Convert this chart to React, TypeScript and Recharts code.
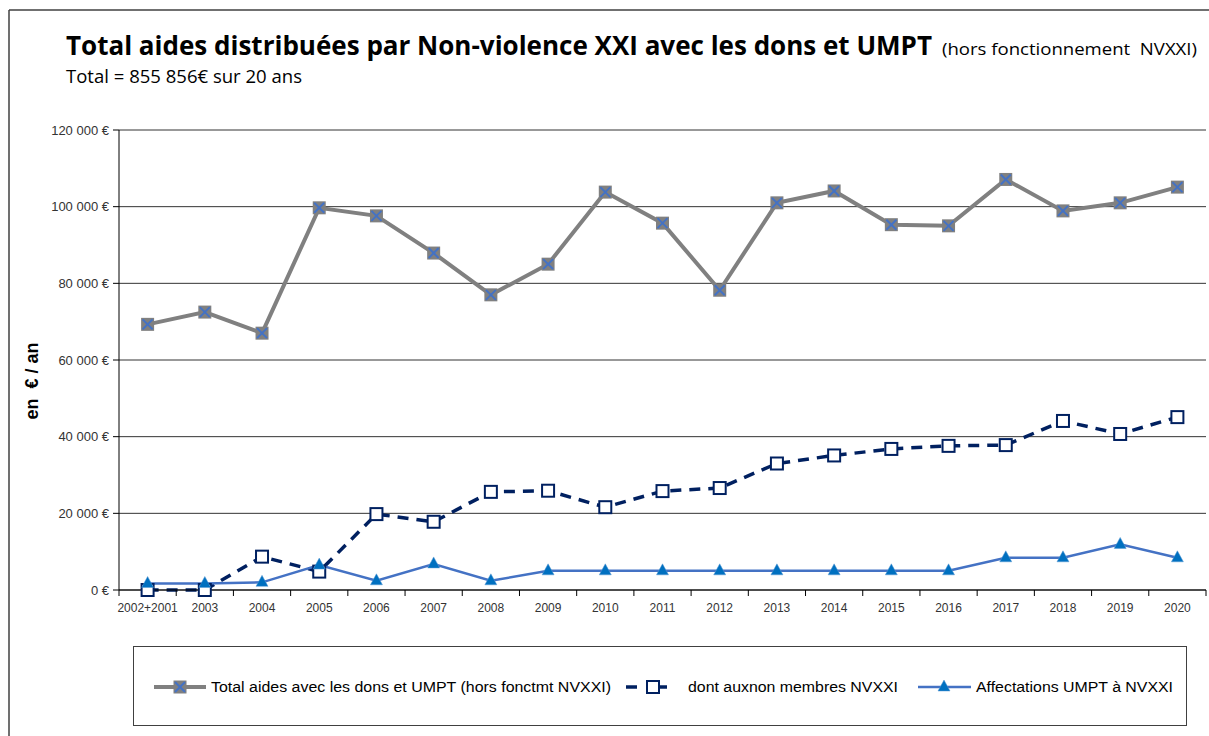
import React from 'react';
import { LineChart, Line, XAxis, YAxis, CartesianGrid } from 'recharts';

const CATEGORIES = ['2002+2001', '2003', '2004', '2005', '2006', '2007', '2008', '2009', '2010', '2011', '2012', '2013', '2014', '2015', '2016', '2017', '2018', '2019', '2020'];
const TOTAL_AIDES = [69300, 72500, 67000, 99700, 97600, 87900, 77000, 85000, 103800, 95700, 78200, 101000, 104100, 95300, 95000, 107100, 98900, 101000, 105100];
const NON_MEMBRES = [0, 0, 8700, 4800, 19800, 17800, 25600, 25900, 21600, 25800, 26600, 33000, 35100, 36800, 37600, 37800, 44100, 40700, 45100];
const AFFECTATIONS_UMPT = [1700, 1700, 2000, 6500, 2400, 6800, 2400, 5000, 5000, 5000, 5000, 5000, 5000, 5000, 5000, 8400, 8400, 11900, 8400];
const Y_TICKS = [0, 20000, 40000, 60000, 80000, 100000, 120000];

const TITLE = 'Total aides distribuées par Non-violence XXI avec les dons et UMPT';
const TITLE_NOTE = '(hors fonctionnement  NVXXI)';
const SUBTITLE = 'Total = 855 856€ sur 20 ans';
const Y_LABEL = 'en  € / an';
const LEGEND_NAMES = ['Total aides avec les dons et UMPT (hors fonctmt NVXXI)', 'dont auxnon membres NVXXI', 'Affectations UMPT à NVXXI'];

const data = CATEGORIES.map((c, i) => ({
  cat: c,
  total: TOTAL_AIDES[i],
  nonMembres: NON_MEMBRES[i],
  umpt: AFFECTATIONS_UMPT[i],
}));

const W = 1209;
const H = 736;
const PLOT_LEFT = 119;
const PLOT_RIGHT = 1206;
const BAND = (PLOT_RIGHT - PLOT_LEFT) / CATEGORIES.length;

const GREY = '#808080';
const XBLUE = '#4472C4';
const NAVY = '#002060';
const LBLUE = '#4472C4';
const TRI = '#0070C0';

const fmtY = (v: number) => {
  if (v === 0) return '0 €';
  const s = String(v);
  const th = s.slice(0, s.length - 3);
  const rest = s.slice(s.length - 3);
  return `${th} ${rest} €`;
};

const SquareX = (props: any) => {
  const { cx, cy, index } = props;
  if (cx == null || cy == null) return null;
  const h = 6.5;
  return (
    <g key={`sx${index}`}>
      <rect x={cx - h} y={cy - h} width={2 * h} height={2 * h} fill={GREY} />
      <line x1={cx - 5} y1={cy - 5} x2={cx + 5} y2={cy + 5} stroke={XBLUE} strokeWidth={2} />
      <line x1={cx - 5} y1={cy + 5} x2={cx + 5} y2={cy - 5} stroke={XBLUE} strokeWidth={2} />
    </g>
  );
};

const OpenSquare = (props: any) => {
  const { cx, cy, index } = props;
  if (cx == null || cy == null) return null;
  const h = 6;
  return <rect key={`os${index}`} x={cx - h} y={cy - h} width={2 * h} height={2 * h} fill="#fff" stroke={NAVY} strokeWidth={2} />;
};

const Triangle = (props: any) => {
  const { cx, cy, index } = props;
  if (cx == null || cy == null) return null;
  return <path key={`tr${index}`} d={`M${cx},${cy - 7} L${cx + 6},${cy + 4} L${cx - 6},${cy + 4} Z`} fill={TRI} stroke="#5b9bd5" strokeWidth={0.5} />;
};

const XTick = (props: any) => {
  const { x, y, payload, index } = props;
  const last = index === CATEGORIES.length - 1;
  return (
    <g>
      <line x1={x - BAND / 2} y1={590} x2={x - BAND / 2} y2={596} stroke="#000" strokeWidth={1} />
      {last && <line x1={x + BAND / 2} y1={590} x2={x + BAND / 2} y2={596} stroke="#000" strokeWidth={1} />}
      <text x={x} y={y + 14} textAnchor="middle" fontSize={12} fill="#333" fontFamily="Liberation Sans, Arial, sans-serif">
        {payload.value}
      </text>
    </g>
  );
};

const YTick = (props: any) => {
  const { x, y, payload } = props;
  return (
    <text x={x - 2} y={y + 4.5} textAnchor="end" fontSize={13} fill="#333" fontFamily="Liberation Sans, Arial, sans-serif">
      {fmtY(payload.value)}
    </text>
  );
};

export default function App() {
  return (
    <div style={{ position: 'absolute', left: 0, top: 0, width: W, height: H, background: '#fff', overflow: 'hidden' }}>
      <svg width={W} height={H} style={{ position: 'absolute', left: 0, top: 0 }}>
        <line x1={9} y1={10} x2={W} y2={10} stroke="#404040" strokeWidth={1.5} />
        <line x1={9} y1={10} x2={9} y2={H} stroke="#404040" strokeWidth={1.5} />
        <text x={66} y={55} fontSize={27} fontWeight="bold" fontFamily="Open Sans, sans-serif" fill="#000" textLength={866} lengthAdjust="spacingAndGlyphs">
          {TITLE}
        </text>
        <text x={942} y={55} fontSize={16} fontFamily="Open Sans, sans-serif" fill="#000" textLength={255} lengthAdjust="spacingAndGlyphs" style={{ whiteSpace: 'pre' }}>
          {TITLE_NOTE}
        </text>
        <text x={66} y={83} fontSize={18} fontFamily="Open Sans, sans-serif" fill="#000" textLength={236} lengthAdjust="spacingAndGlyphs">
          {SUBTITLE}
        </text>
        <text x={0} y={0} transform="translate(38,381) rotate(-90)" textAnchor="middle" fontSize={18} fontWeight="bold" fontFamily="Liberation Sans, Arial, sans-serif" fill="#000" style={{ whiteSpace: 'pre' }}>
          {Y_LABEL}
        </text>
      </svg>
      <div style={{ position: 'absolute', left: 0, top: 0 }}>
        <LineChart width={W} height={H} data={data} margin={{ top: 130, right: 3, bottom: 116, left: 59 }}>
          <CartesianGrid horizontal vertical={false} stroke="#333" strokeWidth={1} />
          <XAxis dataKey="cat" height={30} padding={{ left: BAND / 2, right: BAND / 2 }} axisLine={{ stroke: '#000' }} tickLine={false} tick={<XTick />} interval={0} />
          <YAxis width={60} domain={[0, 120000]} ticks={Y_TICKS} axisLine={{ stroke: '#000' }} tickLine={{ stroke: '#000' }} tickSize={6} tick={<YTick />} />
          <YAxis yAxisId="r" orientation="right" width={0} domain={[0, 120000]} axisLine={{ stroke: '#555' }} tick={false} tickLine={false} />
          <Line dataKey="total" stroke={GREY} strokeWidth={4} dot={<SquareX />} activeDot={false} isAnimationActive={false} />
          <Line dataKey="nonMembres" stroke={NAVY} strokeWidth={3.5} strokeDasharray="11 8" dot={<OpenSquare />} activeDot={false} isAnimationActive={false} />
          <Line dataKey="umpt" stroke={LBLUE} strokeWidth={2.5} dot={<Triangle />} activeDot={false} isAnimationActive={false} />
        </LineChart>
      </div>
      <div style={{ position: 'absolute', left: 133, top: 646, width: 1054, height: 80, border: '1px solid #404040', boxSizing: 'border-box', background: '#fff' }}>
        <svg width={1054} height={80} style={{ position: 'absolute', left: 0, top: 0 }}>
          <g transform="translate(-133,-646)">
            <line x1={153} y1={686} x2={205} y2={686} stroke={GREY} strokeWidth={4} />
            <SquareX cx={179} cy={686} index={0} />
            <text x={210} y={691} fontSize={14} fontFamily="Liberation Sans, Arial, sans-serif" fill="#000" textLength={400} lengthAdjust="spacingAndGlyphs">
              {LEGEND_NAMES[0]}
            </text>
            <line x1={625} y1={686} x2={636} y2={686} stroke={NAVY} strokeWidth={3.5} />
            <line x1={658} y1={686} x2={666} y2={686} stroke={NAVY} strokeWidth={3.5} />
            <OpenSquare cx={652} cy={686} index={0} />
            <text x={687} y={691} fontSize={14} fontFamily="Liberation Sans, Arial, sans-serif" fill="#000" textLength={210} lengthAdjust="spacingAndGlyphs">
              {LEGEND_NAMES[1]}
            </text>
            <line x1={917} y1={686} x2={970} y2={686} stroke={LBLUE} strokeWidth={2.5} />
            <Triangle cx={943} cy={686} index={0} />
            <text x={975} y={691} fontSize={14} fontFamily="Liberation Sans, Arial, sans-serif" fill="#000" textLength={197} lengthAdjust="spacingAndGlyphs">
              {LEGEND_NAMES[2]}
            </text>
          </g>
        </svg>
      </div>
    </div>
  );
}
